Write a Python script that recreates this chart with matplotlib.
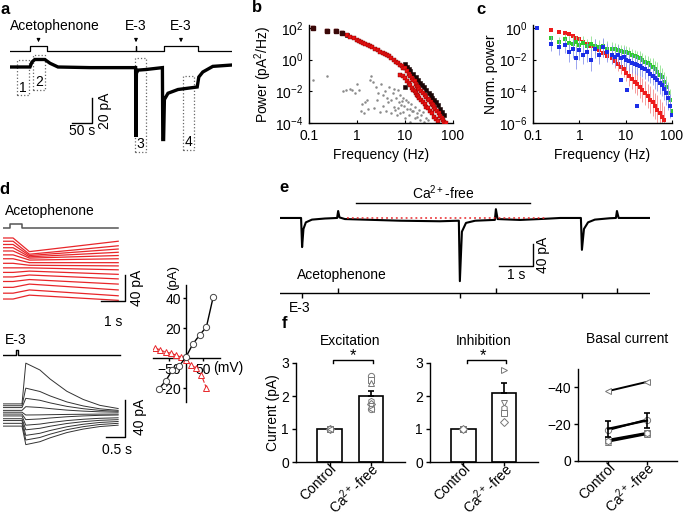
import numpy as np
import matplotlib
matplotlib.use('Agg')
import matplotlib.pyplot as plt
from matplotlib.patches import Rectangle
from matplotlib.ticker import NullLocator
from matplotlib.transforms import ScaledTranslation

plt.rcParams['font.family'] = ['Liberation Sans', 'DejaVu Sans']
plt.rcParams['font.size'] = 10
plt.rcParams['mathtext.fontset'] = 'custom'
plt.rcParams['mathtext.rm'] = 'Liberation Sans'
plt.rcParams['mathtext.it'] = 'Liberation Sans:italic'
plt.rcParams['mathtext.default'] = 'regular'
plt.rcParams['axes.linewidth'] = 1.0

# ---------------- data ----------------
# a: long recording (s, pA)
a_t = [0, 50, 55, 62, 87, 100, 120, 200, 314, 315, 316, 320, 340, 381, 382, 384,
       386, 395, 420, 468, 472, 482, 507, 555]
a_i = [0, 0, 4, 6, 6, 3, 0, -0.5, -0.5, -56, -5, -2.5, -2, -0.5, -58, -58,
       -26, -21, -18, -16, -8, -4, 0.5, 1.6]
a_pulses = [(50, 92.5), (314, 316), (385, 470)]
a_pulse_names = ['Acetophenone', 'E-3', 'E-3']
a_windows = [(17.5, 47.5, -22.4, 5.6), (57.5, 87.5, -18.4, 9.6),
             (312, 340, -68, 7.2), (432, 460, -66.4, -7.2)]
a_window_names = ['1', '2', '3', '4']

# b: power spectra
b_freq = [0.12, 0.24, 0.37, 0.49, 0.61, 0.73, 0.85, 0.98, 1.1, 1.2, 1.35, 1.5, 1.7, 1.9,
          2.1, 2.4, 2.7, 3.0, 3.4, 3.8, 4.2, 4.7, 5.2, 5.8, 6.4, 7.0, 7.7, 8.5, 9.3, 10,
          11, 12, 13, 14, 15, 16, 17, 18, 19, 20, 22, 24, 26, 28, 30, 32, 34, 36, 38, 40,
          43, 46, 50, 54, 58, 62, 66, 70]
b_red = [100, 63, 63, 47, 34, 27, 22, 18, 15, 13.5, 11.5, 9.8, 8.3, 7.1, 6.2, 4.8, 3.9,
         3.2, 2.7, 2.3, 2.0, 1.7, 1.35, 1.0, 0.76, 0.59, 0.48, 0.40, 0.32, 0.28, 0.19,
         0.13, 0.10, 0.069, 0.051, 0.042, 0.031, 0.023, 0.019, 0.015, 0.011, 0.008,
         0.0063, 0.0045, 0.0035, 0.0029, 0.0021, 0.0016, 0.0013, 0.001, 0.0008, 0.00059,
         0.0004, 0.00028, 0.0002, 0.00015, 0.00012, 0.0001]
b_red_lo_f = [8, 9, 10, 11, 12, 13, 14, 15, 16, 17, 18, 19, 20, 22, 24, 26, 28, 30, 33,
              36, 40, 44, 48]
b_red_lo_p = [0.11, 0.088, 0.07, 0.048, 0.033, 0.025, 0.017, 0.013, 0.0105, 0.0078,
              0.0058, 0.0048, 0.0038, 0.0028, 0.002, 0.0016, 0.0011, 0.0009, 0.0006,
              0.0004, 0.00025, 0.00018, 0.00013]
b_black_f = [0.12, 0.24, 0.37, 0.49, 0.61, 10, 11, 12, 13, 15, 17, 19, 21, 23, 25, 28,
             31, 34, 37, 41, 45, 49, 54, 59, 65, 10.2]
b_black_p = [100, 62, 62, 46, 34, 0.5, 0.35, 0.25, 0.18, 0.12, 0.08, 0.05, 0.035, 0.025,
             0.018, 0.012, 0.008, 0.006, 0.004, 0.0028, 0.002, 0.0013, 0.0008, 0.0005,
             0.0003, 0.02]
b_gray_f = [0.12, 0.24, 0.5, 0.6, 0.7, 0.8, 0.9, 1.0, 1.1, 1.3, 1.5, 1.7, 1.9, 2.0, 2.2,
            2.5, 2.8, 3.1, 3.4, 3.8, 4.2, 4.6, 5.0, 5.5, 6.0, 6.5, 7.0, 7.5, 8.0, 8.5,
            9.0, 9.5, 10.5, 11.5, 12.5, 13.5, 15, 16.5, 18, 20, 22, 24, 27, 30, 1.2, 1.4,
            1.6, 2.3, 2.6, 3.0, 3.5, 4.0, 4.5, 5.2, 5.8, 6.3, 6.8, 7.3, 7.8, 8.3, 9.2, 10,
            11, 12, 13, 14, 16, 18, 21, 25]
b_gray_p = [0.05, 0.1, 0.01, 0.012, 0.015, 0.012, 0.008, 0.03, 0.012, 0.0015, 0.002,
            0.0008, 0.05, 0.1, 0.04, 0.02, 0.008, 0.03, 0.006, 0.01, 0.004, 0.02, 0.003,
            0.008, 0.015, 0.004, 0.012, 0.002, 0.006, 0.0025, 0.004, 0.0012, 0.003, 0.002,
            0.0008, 0.0015, 0.0006, 0.001, 0.0004, 0.0007, 0.0003, 0.0005, 0.0002,
            0.00015, 0.0006, 0.0004, 0.003, 0.0009, 0.003, 0.0005, 0.0012, 0.0006, 0.002,
            0.0004, 0.001, 0.0007, 0.0003, 0.0009, 0.00045, 0.0013, 0.0005, 0.0002,
            0.0008, 0.0003, 0.00012, 0.0006, 0.0002, 0.00025, 0.00015, 0.00011]

# c: normalized spectra with error factors
c_freq = [0.24, 0.37, 0.49, 0.61, 0.73, 0.85, 0.98, 1.2, 1.5, 1.8, 2.2, 2.7, 3.3, 4, 5,
          6, 7, 8, 9, 10, 12, 14, 16, 18, 20, 23, 26, 30, 34, 38, 43, 48, 54, 60, 67,
          75, 83, 92, 100]
c_red = [0.75, 0.6, 0.5, 0.4, 0.3, 0.25, 0.2, 0.14, 0.1, 0.07, 0.05, 0.038, 0.028, 0.018,
         0.012, 0.008, 0.005, 0.0035, 0.0025, 0.0015, 0.0009, 0.0006, 0.0004, 0.00028,
         0.0002, 0.00012, 8e-5, 5e-5, 3e-5, 2e-5, 1.2e-5, 7e-6, 4e-6, 2.5e-6, 1.5e-6]
c_red_k = [1.2, 1.2, 1.2, 1.3, 1.3, 1.3, 1.4, 1.4, 1.5, 1.5, 1.6, 1.7, 1.8, 2, 2, 2.5,
           2.5, 3, 3, 3.5, 4, 4, 5, 5, 5, 6, 6, 6, 7, 7, 7, 8, 8, 8, 8]
c_green = [0.22, 0.14, 0.2, 0.12, 0.1, 0.13, 0.09, 0.12, 0.07, 0.1, 0.07, 0.06, 0.07,
           0.05, 0.05, 0.045, 0.04, 0.035, 0.032, 0.03, 0.025, 0.02, 0.016, 0.014, 0.012,
           0.009, 0.007, 0.006, 0.0045, 0.0035, 0.0025, 0.0017, 0.0011, 0.0008, 0.0004,
           0.00018, 8e-5, 3e-5, 6e-6]
c_green_k = [1.5, 2, 2, 2.5, 3, 2.5, 3, 2.5, 3, 3, 3, 3, 3, 3, 2.5, 2.5, 2.5, 2.5, 2.5,
             2.5, 2.5, 2.5, 2.5, 2.5, 3, 3, 3, 3, 3, 3.5, 3.5, 4, 4, 4, 4, 5, 5, 5, 5]
c_blue_f = [0.12] + c_freq
c_blue = [1.0, 0.1, 0.06, 0.08, 0.03, 0.05, 0.012, 0.04, 0.02, 0.03, 0.01, 0.05, 0.02,
          0.06, 0.03, 0.02, 0.015, 0.02, 0.012, 0.015, 0.01, 0.008, 0.006, 0.005, 0.0045,
          0.004, 0.003, 0.0025, 0.0018, 0.0013, 0.001, 0.0007, 0.0005, 0.00035, 0.00025,
          0.00015, 8e-5, 4e-5, 1.2e-5, 3e-6]
c_blue_k = [1.01, 3, 3, 3, 4, 4, 5, 4, 4, 4, 5, 4, 4, 4, 4, 4, 4, 4, 4, 4, 4, 4, 4, 4, 4,
            4, 4, 4, 4, 4, 4, 5, 5, 5, 5, 5, 6, 6, 6, 6]
c_blue_out_f = [8, 10.5, 18]
c_blue_out_p = [5e-4, 1.2e-4, 1.2e-5]

# d: holding series
d_ace_t = [0, 0.42, 1.1, 4.8]
d_ace_start = [94, 89, 84, 79, 74, 68, 62, 55, 48, 41, 34, 27, 18, 9, 0]
d_ace_dip = [73, 69, 67, 65, 63, 60, 56, 52, 48, 43, 37, 30, 23, 14, 6]
d_ace_end = [89, 82, 77, 72, 67, 62, 56, 51, 45, 38, 31, 23, 14, 5, -2]
d_ace_pulse = (0.29, 0.79)
d_e3_t = [0, 0.5, 0.6, 0.97, 1.24, 1.68, 2.11, 2.55, 3.03]
d_e3_decay = [1, 0.85, 0.65, 0.38, 0.2, 0.07, 0]
d_e3_base = [21, 19, 17, 14, 12, 10, 8, 5, 3, 0, -3]
d_e3_peak = [65, 38, 27, 18, 9, 4, -2, -7, -13, -18, -23]
d_e3_end = [16, 14, 13, 12, 10, 9, 6, 4, 2, 0, -2]
d_e3_pulse = (0.35, 0.40)
iv_v_e3 = [-80, -60, -40, -20, 0, 20, 40, 60, 80]
iv_i_e3 = [-20.7, -15.3, -8, -5.3, 0.7, 9.3, 15.3, 20.7, 40.7]
iv_v_ace = [-90, -75, -60, -45, -30, -15, 0, 15, 30, 45, 60]
iv_i_ace = [6.7, 5.3, 4, 3.3, 2, 0.7, -1.3, -4.7, -6.7, -11.3, -20]

# e: Ca-free recording (s, pA)
e_t = [0, 0.62, 0.65, 0.69, 0.76, 0.94, 1.32, 1.68, 1.71, 1.75, 1.91, 3.53, 4.7, 5.26,
       5.29, 5.35, 5.47, 5.74, 6.32, 6.35, 6.4, 7.06, 7.8, 8.24, 8.85, 8.88, 8.94, 9.06,
       9.26, 9.7, 9.88, 9.91, 9.96, 10.88]
e_i = [0, 0, -53, -20, -8, -3, -1, 0, 12.7, 1, -2, -5, -6, -5, -115, -25, -9, -5, -3.5,
       16, -2, -3.6, -1.5, 0, 0, -58, -20, -8, -3, -0.5, 0, 12.7, 0, 0]
e_e3_times = [0.65, 5.29, 8.88]
e_ace_times = [1.71, 6.35, 9.91]
e_cafree = (2.24, 7.35)
e_ref = (1.97, 7.85)

# f: summary
exc_means = [1.0, 2.0]
exc_sem = [0, 0.15]
exc_ca_pts = [2.62, 2.5, 2.4, 1.85, 1.75, 1.7, 1.62, 1.6]
exc_markers = ['o', 's', '^', 'h', 'D', 'v', 'o', '<']
inh_means = [1.0, 2.1]
inh_sem = [0, 0.3]
inh_ca_pts = [2.8, 1.8, 1.65, 1.5, 1.2]
inh_markers = ['>', 'v', 'h', 's', 'D']
basal_ctrl = [-38, -16.8, -11.5, -10.5, -11]
basal_ca = [-43, -22.5, -15.3, -14.6, -15]
basal_markers = ['<', 'o', 's', '^', 'h']
basal_mean = [-17.5, -22.0]
basal_sem = [4.5, 4.0]
groups = ['Control', 'Ca$^{2+}$-free']

# ---------------- figure ----------------
W, H = 685, 516
fig = plt.figure(figsize=(W / 100, H / 100), dpi=100)


def px_axes(x0, y0, x1, y1):
    ax = fig.add_axes([x0 / W, 1 - y1 / H, (x1 - x0) / W, (y1 - y0) / H])
    return ax


def pulse_line(pulses, t_end):
    t, y = [0], [0]
    for on, off in pulses:
        t += [on, on, off, off]
        y += [0, 1, 1, 0]
    t.append(t_end)
    y.append(0)
    return t, y


def panel_label(x, y, s):
    fig.text(x / W, 1 - y / H, s, fontsize=12, fontweight='bold', ha='center', va='center')


# ----- a -----
ax = px_axes(10, 40, 232, 160)
ax.axis('off')
ax.set_xlim(0, 555)
ax.set_ylim(-74.4, 21.6)
ax.plot(a_t, a_i, color='k', lw=2.4, solid_joinstyle='miter')
for (t0, t1, lo, hi), name in zip(a_windows, a_window_names):
    ax.add_patch(Rectangle((t0, lo), t1 - t0, hi - lo, fill=False, ls=':', lw=0.9,
                           ec='#666666'))
    ax.text((t0 + t1) / 2, lo + 6, name, ha='center', va='center', fontsize=10)
ax.plot([155, 205, 205], [-44.8, -44.8, -44.8 + 20], color='k', lw=1)
ax.text(180, -51.5, '50 s', ha='center', va='center')
ax.text(237, -34.8, '20 pA', ha='center', va='center', rotation=90)

ax = px_axes(10, 40, 232, 56)
ax.axis('off')
ax.set_xlim(0, 555)
ax.set_ylim(-1, 2.2)
t, y = pulse_line(a_pulses, 555)
ax.plot(t, y, color='k', lw=0.9)
for (on, off), name in zip(a_pulses, a_pulse_names):
    mid = (on + off) / 2
    ax.annotate('', xy=(mid, 1.2), xytext=(mid, 3.0),
                arrowprops=dict(arrowstyle='-|>', color='k', lw=0.7, mutation_scale=5),
                annotation_clip=False)
labx = [112, 315, 427]
for lx, name in zip(labx, a_pulse_names):
    ax.text(lx, 5.0, name, ha='center', va='center', fontsize=10)
panel_label(5, 9, 'a')


def log_style(ax, ylabel, yticks):
    ax.set_xscale('log')
    ax.set_yscale('log')
    for s in ['top', 'right']:
        ax.spines[s].set_visible(False)
    ax.set_xticks([0.1, 1, 10, 100])
    ax.set_xticklabels(['0.1', '1', '10', '100'])
    ax.set_yticks(yticks)
    ax.xaxis.set_minor_locator(NullLocator())
    ax.yaxis.set_minor_locator(NullLocator())
    ax.tick_params(direction='in', length=2.5, width=0.8, labelsize=10, pad=4)
    ax.set_xlabel('Frequency (Hz)', fontsize=10, labelpad=4)
    ax.set_ylabel(ylabel, fontsize=10, labelpad=1)


# ----- b -----
ax = px_axes(309, 25, 453, 123)
ax.plot(b_gray_f, b_gray_p, 'o', ms=1.8, color='#8a8a8a', mew=0, zorder=1)
ax.plot(b_red_lo_f, b_red_lo_p, 's', ms=3.3, mfc='#ee1111', mec='#7a0000', mew=0.3,
        zorder=2)
ax.plot(b_black_f, b_black_p, 's', ms=3.3, color='#1a0505', mew=0.4, zorder=2)
ax.plot(b_freq, b_red, 's', ms=3.3, mfc='#ee1111', mec='#7a0000', mew=0.3, zorder=3)
ax.plot(b_black_f[:4], b_black_p[:4], 's', ms=3.3, color='#3a0808', zorder=4)
ax.set_xlim(0.1, 100)
ax.set_ylim(1e-4, 10 ** 2.19)
log_style(ax, 'Power (pA$^2$/Hz)', [1e-4, 1e-2, 1, 1e2])
panel_label(257, 8, 'b')

# ----- c -----
ax = px_axes(533, 25, 672, 123)


def err_series(ax, f, v, k, color, ecolor, z):
    v = np.array(v, dtype=float)
    k = np.array(k, dtype=float)
    ax.errorbar(f, v, yerr=[v - v / k, v * k - v], fmt='s', ms=2.4, mfc=color,
                mec=color, mew=0, ecolor=ecolor, elinewidth=0.6, capsize=1.2,
                capthick=0.5, zorder=z)


err_series(ax, c_freq[:len(c_red)], c_red, c_red_k, '#ee1c1c', '#f48a8a', 2)
err_series(ax, c_freq, c_green, c_green_k, '#2ecc2e', '#8ee08e', 3)
err_series(ax, c_blue_f, c_blue, c_blue_k, '#1c2ee6', '#8c96ee', 4)
ax.plot(c_blue_out_f, c_blue_out_p, 's', ms=2.4, color='#1c2ee6', mew=0, zorder=4)
ax.set_xlim(0.1, 100)
ax.set_ylim(1e-6, 10 ** 0.19)
log_style(ax, 'Norm. power', [1e-6, 1e-4, 1e-2, 1])
panel_label(481, 9, 'c')

# ----- d -----
ax = px_axes(3, 230, 130, 330)
ax.axis('off')
ax.set_xlim(0, 127 / 24)
ax.set_ylim(-47.7, 106.3)
for s0, s1, s2 in zip(d_ace_start, d_ace_dip, d_ace_end):
    ax.plot(d_ace_t, [s0, s0, s1, s2], color='#e8262a', lw=0.9)
ax.plot([4.08, 5.08, 5.08], [-3, -3, 37], color='k', lw=1)
ax.text(4.58, -35, '1 s', ha='center', va='center')
ax.text(5.6, 17, '40 pA', ha='center', va='center', rotation=90)

ax = px_axes(3, 214, 130, 232)
ax.axis('off')
ax.set_xlim(0, 127 / 24)
ax.set_ylim(-1, 3.5)
t, y = pulse_line([d_ace_pulse], 4.79)
ax.plot(t, y, color='#555555', lw=1.1)
ax.text(1.96, 4.25, 'Acetophenone', ha='center', va='center')

ax = px_axes(3, 355, 145, 460)
ax.axis('off')
ax.set_xlim(0, 142 / 38)
ax.set_ylim(-39.6, 73.8)
for b0, pk, en in zip(d_e3_base, d_e3_peak, d_e3_end):
    vals = [b0, b0] + [en + f * (pk - en) for f in d_e3_decay]
    ax.plot(d_e3_t, vals, color='#333333', lw=0.7)
ax.plot([2.71, 3.21, 3.21], [-14.8, -14.8, 25.2], color='k', lw=1)
ax.text(3.0, -29, '0.5 s', ha='center', va='center')
ax.text(3.6, 7, '40 pA', ha='center', va='center', rotation=90)

ax = px_axes(3, 335, 145, 360)
ax.axis('off')
ax.set_xlim(0, 142 / 38)
ax.set_ylim(-1, 4)
t, y = pulse_line([d_e3_pulse], 3.08)
ax.plot(t, y, color='k', lw=1)
ax.text(0.34, 3, 'E-3', ha='center', va='center')

ax = px_axes(153, 285, 220, 402)
ax.set_xlim(-97, 100)
ax.set_ylim(-29.3, 48.7)
for s in ['top', 'right']:
    ax.spines[s].set_visible(False)
ax.spines['left'].set_position(('data', 0))
ax.spines['bottom'].set_position(('data', 0))
ax.patch.set_visible(False)
ax.set_xticks([-50, 50])
ax.set_xticklabels(['\u221250', '50'])
ax.set_yticks([-20, 20, 40])
ax.set_yticklabels(['\u221220', '20', '40'])
ax.tick_params(length=2.5, width=1, pad=1, labelsize=10)
ax.plot(iv_v_ace, iv_i_ace, ls='--', color='#e8262a', lw=0.8, marker='^', ms=4.5,
        mfc='white', mec='#e8262a', mew=0.7, zorder=3)
ax.plot(iv_v_e3, iv_i_e3, ls='-', color='k', lw=1, marker='o', ms=4.5, mfc='white',
        mec='#444444', mew=0.7, zorder=4)
ax.text(80, -6.5, '(mV)', ha='left', va='center')
ax.text(-38, 54, '(pA)', ha='center', va='center', rotation=90, fontsize=9.5)
panel_label(4, 190, 'd')

# ----- e -----
ax = px_axes(280, 185, 650, 285)
ax.axis('off')
ax.set_xlim(0, 370 / 34)
ax.set_ylim(-122, 60)
ax.plot(e_t, e_i, color='k', lw=1.5)
ax.plot(e_ref, [0, 0], ls=(0, (1.2, 2)), color='#e8262a', lw=1.1)
ax.plot(e_cafree, [27.3, 27.3], color='k', lw=1)
ax.text(sum(e_cafree) / 2, 45.5, 'Ca$^{2+}$-free', ha='center', va='center')
ax.plot([6.44, 7.44, 7.44], [-87.4, -87.4, -47.4], color='k', lw=1)
ax.text(6.94, -103.7, '1 s', ha='center', va='center')
ax.text(7.74, -67, '40 pA', ha='center', va='center', rotation=90)

ax = px_axes(280, 280, 650, 320)
ax.axis('off')
ax.set_xlim(0, 370 / 34)
ax.set_ylim(-5.4, 2.6)
ax.plot([0, 370 / 34], [0, 0], color='k', lw=1)
ax.vlines(e_e3_times, -1, 0, color='k', lw=1)
ax.vlines(e_ace_times, 0, 1, color='k', lw=1)
ax.text(0.5, 3.6, 'Acetophenone', ha='left', va='center')
ax.text(0.59, -3, 'E-3', ha='center', va='center')
panel_label(284, 188, 'e')

# ----- f -----
shift = ScaledTranslation(0.05, 0.01, fig.dpi_scale_trans)


def bar_style(ax, yl, yticks, yticklabels):
    for s in ['top', 'right']:
        ax.spines[s].set_visible(False)
    ax.set_ylim(*yl)
    ax.set_yticks(yticks)
    ax.set_yticklabels(yticklabels)
    ax.set_xticks([0, 1])
    ax.set_xticklabels(groups, rotation=45, ha='right', va='center',
                       rotation_mode='anchor', fontsize=9)
    ax.tick_params(direction='out', length=3, width=1, labelsize=10, pad=2)
    ax.tick_params(axis='x', pad=1)
    for lbl in ax.get_xticklabels():
        lbl.set_transform(lbl.get_transform() + shift)


def bar_panel(ax, means, sem, pts, markers, title, star_x):
    ax.bar([0, 1], means, width=0.6, color='white', edgecolor='k', lw=1.2, zorder=1)
    ax.errorbar([1], [means[1]], yerr=[[0], [sem[1]]], fmt='none', ecolor='k',
                elinewidth=1.2, capsize=2.5, capthick=1.2, zorder=2)
    for p, m in zip(pts, markers):
        ax.plot(0, 1.0, marker=m, ms=4.5, mfc='white', mec='#777777', mew=0.7, zorder=3)
        ax.plot(1, p, marker=m, ms=4.5, mfc='white', mec='#777777', mew=0.7, zorder=3)
    ax.set_xlim(-0.82, 1.83)
    bar_style(ax, (0, 3), [0, 1, 2, 3], ['0', '1', '2', '3'])
    ax.plot([0.08, 0.08, 1.05, 1.05], [3.0, 3.09, 3.09, 3.0], color='k', lw=1,
            clip_on=False)
    ax.text(star_x, 3.22, '*', ha='center', va='center', fontsize=12)
    ax.set_title(title, fontsize=10, pad=13)


ax = px_axes(296, 363, 405, 462)
bar_panel(ax, exc_means, exc_sem, exc_ca_pts, exc_markers, 'Excitation', 0.56)
ax.set_ylabel('Current (pA)', fontsize=10, labelpad=1)

ax = px_axes(430, 363, 538, 462)
bar_panel(ax, inh_means, inh_sem, inh_ca_pts, inh_markers, 'Inhibition', 0.47)

ax = px_axes(578, 369, 677, 461)
for c0, c1, m in zip(basal_ctrl, basal_ca, basal_markers):
    ax.plot([0, 1], [c0, c1], color='k', lw=1.4, marker=m, ms=4.5, mfc='white',
            mec='#777777', mew=0.7)
ax.errorbar([0, 1], basal_mean, yerr=basal_sem, color='k', lw=1.6, capsize=2.5,
            capthick=1.2, elinewidth=1.2)
ax.set_xlim(-0.77, 1.77)
bar_style(ax, (0, -50), [0, -20, -40], ['0', '\u221220', '\u221240'])
ax.set_title('Basal current', fontsize=10, pad=19)
panel_label(284, 323, 'f')

fig.savefig('out.png', dpi=100)
